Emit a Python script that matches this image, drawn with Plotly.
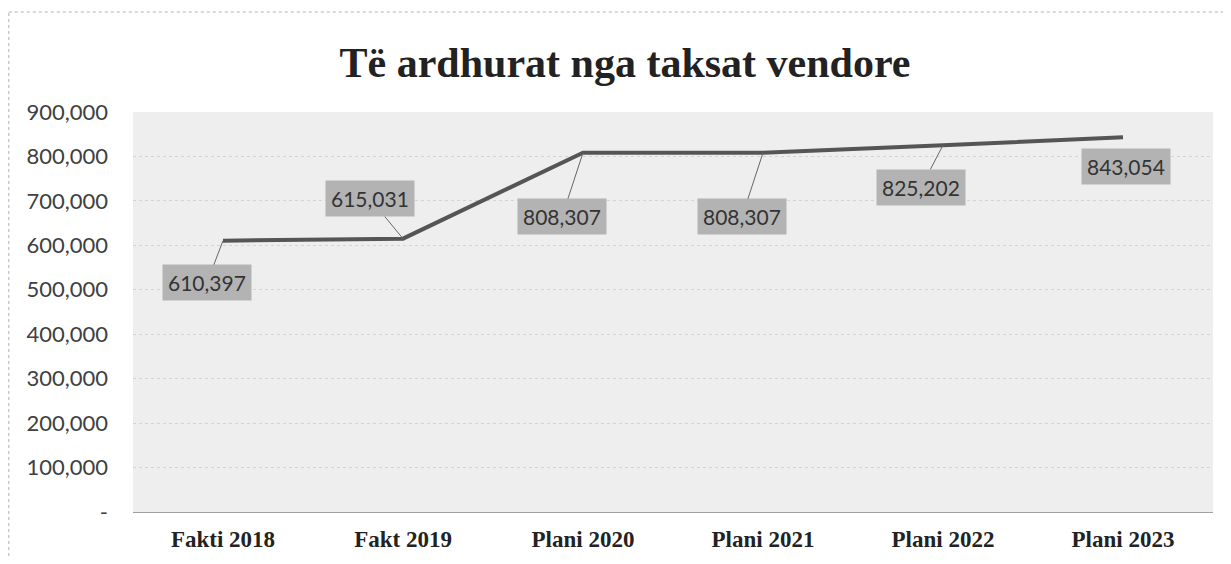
import plotly.graph_objects as go

categories = ["Fakti 2018", "Fakt 2019", "Plani 2020", "Plani 2021", "Plani 2022", "Plani 2023"]
values = [610397, 615031, 808307, 808307, 825202, 843054]
label_texts = ["610,397", "615,031", "808,307", "808,307", "825,202", "843,054"]
tick_vals = [0, 100000, 200000, 300000, 400000, 500000, 600000, 700000, 800000, 900000]
tick_text = ["-", "100,000", "200,000", "300,000", "400,000", "500,000", "600,000", "700,000", "800,000", "900,000"]

# label offsets in pixels (style)
label_ax = [-16, -33, -21, -21, -22, 3]
label_ay = [42, -40, 64, 64, 42, 29]
show_leader = [True, True, True, True, True, False]

label_font = dict(family="Lato, Open Sans, sans-serif", size=21, color="#333333")

fig = go.Figure()
fig.add_trace(go.Scatter(
    x=categories, y=values, mode="lines",
    line=dict(color="#555555", width=4),
    hoverinfo="x+y", showlegend=False,
))

for c, v, t, ax, ay, sl in zip(categories, values, label_texts, label_ax, label_ay, show_leader):
    if sl:
        fig.add_annotation(
            x=c, y=v, text=t, showarrow=True, arrowhead=0, arrowwidth=1,
            arrowcolor="#666666", ax=ax, ay=ay, standoff=0,
            font=label_font, bgcolor="#b3b3b3", borderpad=5,
            xanchor="center", yanchor="middle",
        )
    else:
        fig.add_annotation(
            x=c, y=v, text=t, showarrow=False, xshift=ax, yshift=-ay,
            font=label_font, bgcolor="#b3b3b3", borderpad=5,
            xanchor="center", yanchor="middle",
        )

fig.update_layout(
    width=1215, height=548,
    margin=dict(l=125, r=10, t=104, b=44, autoexpand=False),
    paper_bgcolor="white",
    plot_bgcolor="#eeeeee",
    title=dict(
        text="<b>Të ardhurat nga taksat vendore</b>",
        x=(625 - 8) / 1215, xanchor="center", xref="container",
        y=1 - 54 / 548, yanchor="middle", yref="container",
        font=dict(family="Liberation Serif, Times New Roman, serif", size=42, color="#222222"),
    ),
    xaxis=dict(
        type="category", range=[-0.5, 5.5], automargin=False,
        showgrid=False, showline=True, linecolor="#a0a0a0", linewidth=1,
        ticks="", ticklabelstandoff=6,
        tickfont=dict(family="Liberation Serif, Times New Roman, serif", size=23, color="#222222", weight="bold"),
    ),
    yaxis=dict(
        range=[0, 900000], tickvals=tick_vals, ticktext=tick_text, automargin=False,
        showgrid=True, gridcolor="#d4d4d4", griddash="dot", gridwidth=1,
        zeroline=False, showline=False, ticks="", ticklabelstandoff=24,
        tickfont=dict(family="Lato, Open Sans, sans-serif", size=22, color="#404040"),
    ),
    shapes=[
        dict(type="line", xref="paper", yref="paper", x0=-0.115, x1=-0.115, y0=-0.2, y1=1.25,
             line=dict(color="#b0b0b0", width=1, dash="dot")),
        dict(type="line", xref="paper", yref="paper", x0=-0.115, x1=1.05, y0=1.25, y1=1.25,
             line=dict(color="#b0b0b0", width=1, dash="dot")),
    ],
)

fig.write_html("out.html")
